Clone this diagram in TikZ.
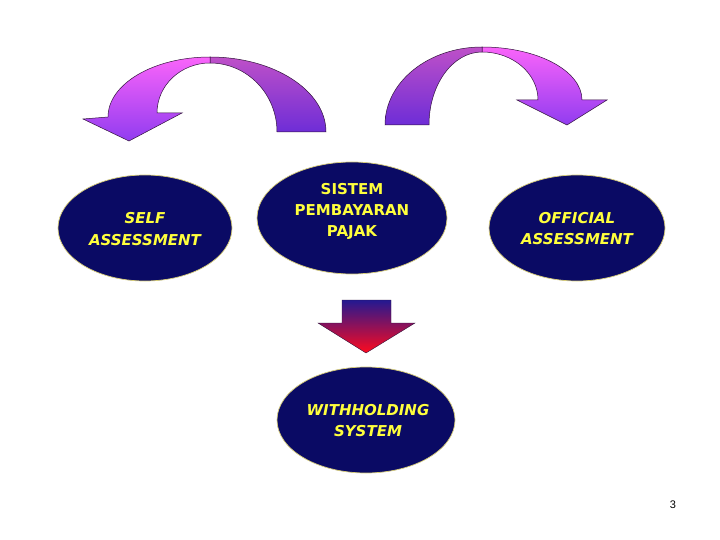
\documentclass[tikz,border=0pt]{standalone}
\usepackage{fontspec}
\newfontfamily\dv{DejaVu Sans}
\newfontfamily\lsans{Liberation Sans}
\usetikzlibrary{shapes.geometric}
\definecolor{navyfill}{RGB}{10,10,100}
\definecolor{txtyellow}{RGB}{255,255,60}
\definecolor{rimcol}{RGB}{215,205,120}
\definecolor{outl}{RGB}{50,20,60}
\definecolor{pinktop}{RGB}{250,100,250}
\definecolor{pinkbot}{RGB}{145,60,240}
\definecolor{tailtop}{RGB}{190,80,200}
\definecolor{tailbot}{RGB}{110,45,215}
\definecolor{arrtop}{RGB}{35,25,145}
\definecolor{arrmid}{RGB}{140,25,140}
\definecolor{arrbot}{RGB}{255,10,30}
\tikzset{
  oval/.style={ellipse, fill=navyfill, draw=rimcol, line width=0.7pt, inner sep=0pt},
  ovaltext/.style={text=txtyellow, align=center, font=\dv\bfseries\itshape\fontsize{15}{21.5}\selectfont},
  ovaltextup/.style={text=txtyellow, align=center, font=\dv\bfseries\fontsize{15}{21}\selectfont},
  headband/.style={draw=outl, line width=0.5pt, top color=pinktop, bottom color=pinkbot},
  tailband/.style={draw=outl, line width=0.5pt, top color=tailtop, bottom color=tailbot},
  downarrow/.style={draw=outl, line width=0.4pt, top color=arrtop, middle color=arrmid, bottom color=arrbot}
}
\begin{document}
\begin{tikzpicture}[x=1pt,y=-1pt]
\useasboundingbox[fill=white] (0,0) rectangle (720,540);

% curved arrow to the left
\path[tailband] (326,132) .. controls (326,90.6) and (274,57) .. (210,57) -- (210,63)
  .. controls (247,63) and (277,93.9) .. (277,132) -- cycle;
\path[headband] (210,57) .. controls (153.7,57) and (108,83.9) .. (108,117) -- (83,119) -- (129,141)
  -- (182,113) -- (157,113) .. controls (157,85.4) and (180.7,63) .. (210,63) -- cycle;

% curved arrow to the right
\path[headband] (482,47) .. controls (537.2,47) and (582,70.7) .. (582,100) -- (607,100) -- (567,125)
  -- (517,100) -- (538,100) .. controls (538,73.5) and (512.9,52) .. (482,52) -- cycle;
\path[tailband] (385,125) .. controls (385,81.9) and (428.5,47) .. (482,47) -- (482,52)
  .. controls (452.7,52) and (429,84.7) .. (429,125) -- cycle;

% ellipses
\node[oval, minimum width=174pt, minimum height=106pt] (self) at (145,228) {};
\node[oval, minimum width=190pt, minimum height=112pt] (sistem) at (352,218) {};
\node[oval, minimum width=176pt, minimum height=106pt] (official) at (577,228) {};
\node[oval, minimum width=178pt, minimum height=106pt] (withhold) at (366,420) {};

\node[ovaltext] (selft) at (145,229) {SELF\\ASSESSMENT};
\node[ovaltextup] (sistemt) at (352,211) {SISTEM\\PEMBAYARAN\\PAJAK};
\node[ovaltext] (officialt) at (577,228.5) {OFFICIAL\\ASSESSMENT};
\node[ovaltext] (withholdt) at (368,420.5) {WITHHOLDING\\SYSTEM};

% down block arrow
\path[downarrow] (342,300) -- (391,300) -- (391,323) -- (415,323) -- (366,353) -- (318,323) -- (342,323) -- cycle;

% page number
\node[font=\lsans\fontsize{11}{13}\selectfont] (pnum) at (673,505) {3};
\end{tikzpicture}
\end{document}
